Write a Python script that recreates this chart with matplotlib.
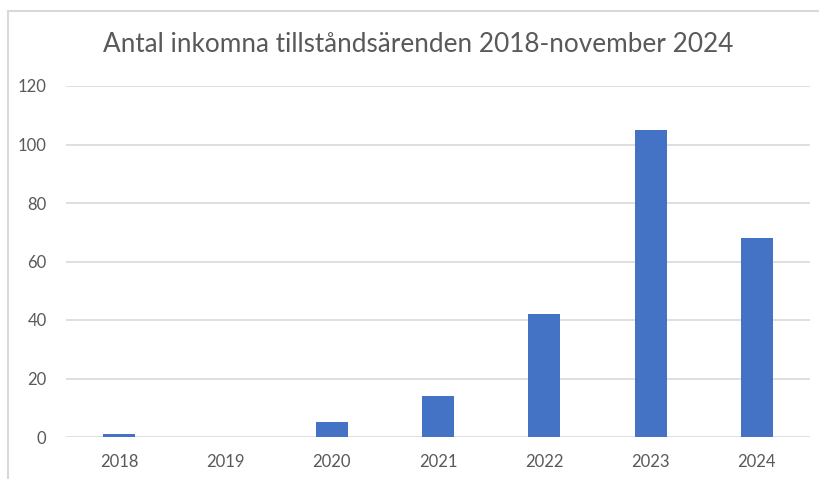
import matplotlib.pyplot as plt
from matplotlib.patches import Rectangle

years = ["2018", "2019", "2020", "2021", "2022", "2023", "2024"]
cases = [1, 0, 5, 14, 42, 105, 68]
yticks = [0, 20, 40, 60, 80, 100, 120]

plt.rcParams['font.family'] = ['Lato', 'DejaVu Sans']

fig = plt.figure(figsize=(8.2, 4.79), dpi=100)
ax = fig.add_axes([66 / 820, 1 - 437 / 479, 744 / 820, 351 / 479])

ax.bar(range(len(years)), cases, width=0.3, color="#4472C4", zorder=3)

ax.set_xlim(-0.5, len(years) - 0.5)
ax.set_ylim(0, 120)
ax.set_yticks(yticks)
ax.set_xticks(range(len(years)))
ax.set_xticklabels(years)
ax.yaxis.grid(True, color="#d9d9d9", linewidth=1.2, zorder=0)
for s in ax.spines.values():
    s.set_visible(False)
ax.tick_params(length=0, labelsize=12, colors="#595959")
ax.tick_params(axis="x", pad=12)
ax.tick_params(axis="y", pad=14)

fig.text(0.51, 1 - 45 / 479, "Antal inkomna tillståndsärenden 2018-november 2024",
         ha="center", va="center", fontsize=18.8, color="#595959")

# outer chart frame (extends past the image on right/bottom)
fig.patches.append(Rectangle((8 / 820, -0.1), 1.1, 1 - 11 / 479 + 0.1,
                             transform=fig.transFigure, fill=False,
                             edgecolor="#d9d9d9", linewidth=1.5))

fig.savefig("out.png", dpi=100)
